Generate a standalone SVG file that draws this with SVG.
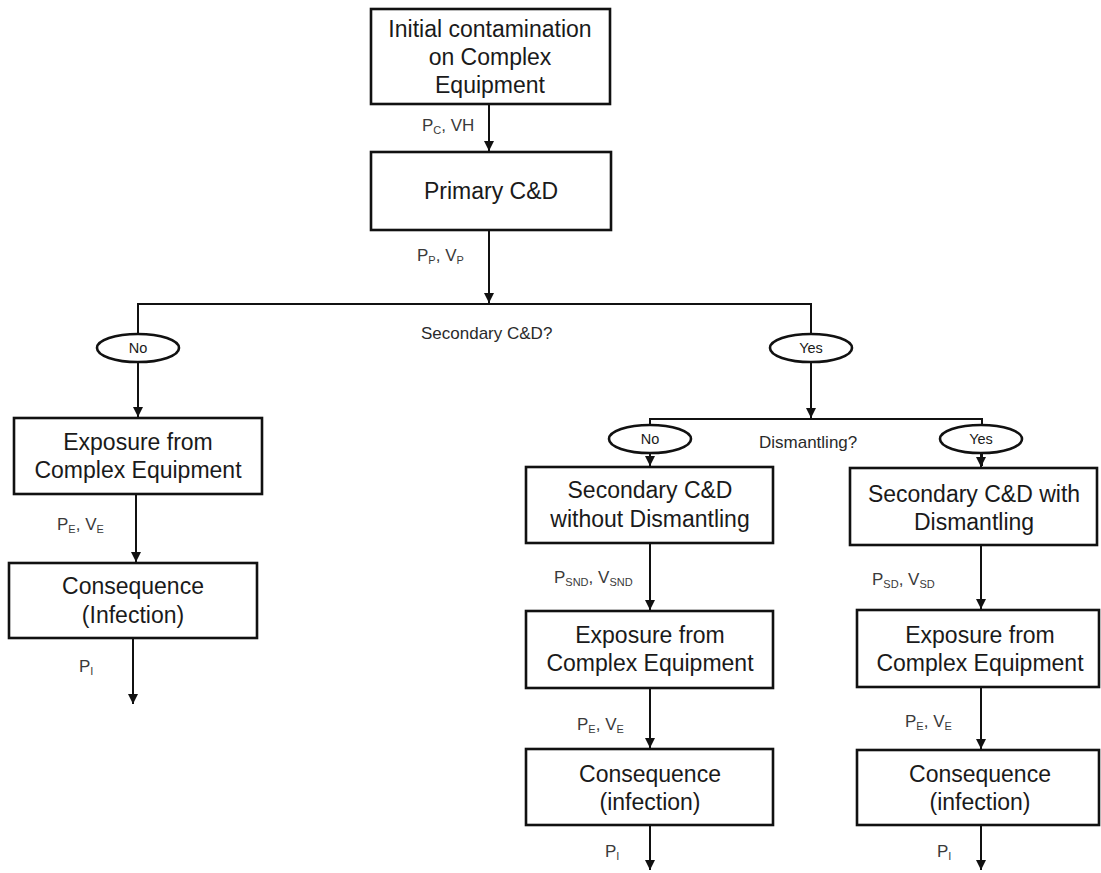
<svg xmlns="http://www.w3.org/2000/svg" width="1101" height="873" viewBox="0 0 1101 873">
  <defs>
    <style>
      .box { fill: #ffffff; stroke: #111111; stroke-width: 2.6; }
      .oval { fill: #ffffff; stroke: #111111; stroke-width: 2.6; }
      .t { font-family: "Liberation Sans", Arial, sans-serif; font-size: 23px; fill: #1a1a1a; text-anchor: middle; }
      .o { font-family: "Liberation Sans", Arial, sans-serif; font-size: 14.5px; fill: #1a1a1a; text-anchor: middle; }
      .q { font-family: "Liberation Sans", Arial, sans-serif; font-size: 17px; fill: #2a2a2a; }
      .lbl { font-family: "Liberation Sans", Arial, sans-serif; font-size: 17px; fill: #3a3a3a; }
      .sub { font-size: 11px; }
      .ln { fill: none; stroke: #111111; stroke-width: 2; }
    </style>
    <marker id="arrow" markerWidth="10" markerHeight="11" refX="10" refY="5" orient="auto" markerUnits="userSpaceOnUse">
      <path d="M0,0 L10,5 L0,10 Z" fill="#111111"/>
    </marker>
  </defs>

  <rect width="1101" height="873" fill="#ffffff"/>

  <!-- connectors -->
  <g id="connectors">
    <line class="ln" x1="489" y1="104" x2="489" y2="151" marker-end="url(#arrow)"/>
    <line class="ln" x1="489" y1="230" x2="489" y2="303" marker-end="url(#arrow)"/>
    <polyline class="ln" points="138,415 138,304 811,304 811,418"/>
    <line class="ln" x1="138" y1="360" x2="138" y2="417" marker-end="url(#arrow)"/>
    <line class="ln" x1="811" y1="360" x2="811" y2="418" marker-end="url(#arrow)"/>
    <polyline class="ln" points="650,466 650,419 982,419 982,466"/>
    <line class="ln" x1="650" y1="452" x2="650" y2="466" marker-end="url(#arrow)"/>
    <line class="ln" x1="981" y1="452" x2="981" y2="467" marker-end="url(#arrow)"/>

    <line class="ln" x1="136" y1="494" x2="136" y2="562" marker-end="url(#arrow)"/>
    <line class="ln" x1="133" y1="638" x2="133" y2="704" marker-end="url(#arrow)"/>

    <line class="ln" x1="650" y1="543" x2="650" y2="610" marker-end="url(#arrow)"/>
    <line class="ln" x1="650" y1="688" x2="650" y2="748" marker-end="url(#arrow)"/>
    <line class="ln" x1="650" y1="825" x2="650" y2="870" marker-end="url(#arrow)"/>

    <line class="ln" x1="981" y1="545" x2="981" y2="609" marker-end="url(#arrow)"/>
    <line class="ln" x1="981" y1="687" x2="981" y2="749" marker-end="url(#arrow)"/>
    <line class="ln" x1="981" y1="825" x2="981" y2="870" marker-end="url(#arrow)"/>
  </g>

  <!-- connector labels -->
  <g id="labels">
    <text class="lbl" x="422" y="131">P<tspan class="sub" dy="3">C</tspan><tspan dy="-3">, VH</tspan></text>
    <text class="lbl" x="417" y="261">P<tspan class="sub" dy="3">P</tspan><tspan dy="-3">, V</tspan><tspan class="sub" dy="3">P</tspan></text>
    <text class="q" x="421" y="339">Secondary C&amp;D?</text>
    <text class="q" x="759" y="448">Dismantling?</text>
    <text class="lbl" x="57" y="530">P<tspan class="sub" dy="3">E</tspan><tspan dy="-3">, V</tspan><tspan class="sub" dy="3">E</tspan></text>
    <text class="lbl" x="79" y="672">P<tspan class="sub" dy="3">I</tspan></text>
    <text class="lbl" x="554" y="583">P<tspan class="sub" dy="3">SND</tspan><tspan dy="-3">, V</tspan><tspan class="sub" dy="3">SND</tspan></text>
    <text class="lbl" x="577" y="730">P<tspan class="sub" dy="3">E</tspan><tspan dy="-3">, V</tspan><tspan class="sub" dy="3">E</tspan></text>
    <text class="lbl" x="605" y="857">P<tspan class="sub" dy="3">I</tspan></text>
    <text class="lbl" x="872" y="585">P<tspan class="sub" dy="3">SD</tspan><tspan dy="-3">, V</tspan><tspan class="sub" dy="3">SD</tspan></text>
    <text class="lbl" x="905" y="727">P<tspan class="sub" dy="3">E</tspan><tspan dy="-3">, V</tspan><tspan class="sub" dy="3">E</tspan></text>
    <text class="lbl" x="937" y="857">P<tspan class="sub" dy="3">I</tspan></text>
  </g>

  <!-- decision ovals -->
  <g id="sec-no">
    <ellipse class="oval" cx="138" cy="348" rx="41" ry="14"/>
    <text class="o" x="138" y="353">No</text>
  </g>
  <g id="sec-yes">
    <ellipse class="oval" cx="811" cy="348" rx="41" ry="14"/>
    <text class="o" x="811" y="353">Yes</text>
  </g>
  <g id="dis-no">
    <ellipse class="oval" cx="650" cy="439" rx="41" ry="14"/>
    <text class="o" x="650" y="444">No</text>
  </g>
  <g id="dis-yes">
    <ellipse class="oval" cx="981" cy="439" rx="41" ry="14"/>
    <text class="o" x="981" y="444">Yes</text>
  </g>

  <!-- process boxes -->
  <g id="initial">
    <rect class="box" x="371" y="9" width="239" height="95"/>
    <text class="t" x="490" y="37">Initial contamination</text>
    <text class="t" x="490" y="65">on Complex</text>
    <text class="t" x="490" y="93">Equipment</text>
  </g>
  <g id="primary">
    <rect class="box" x="371" y="152" width="240" height="78"/>
    <text class="t" x="491" y="199">Primary C&amp;D</text>
  </g>

  <g id="exposure-left">
    <rect class="box" x="14" y="418" width="248" height="76"/>
    <text class="t" x="138" y="450">Exposure from</text>
    <text class="t" x="138" y="478">Complex Equipment</text>
  </g>
  <g id="consequence-left">
    <rect class="box" x="9" y="563" width="248" height="75"/>
    <text class="t" x="133" y="594">Consequence</text>
    <text class="t" x="133" y="623">(Infection)</text>
  </g>

  <g id="secondary-nd">
    <rect class="box" x="526" y="467" width="247" height="76"/>
    <text class="t" x="650" y="498">Secondary C&amp;D</text>
    <text class="t" x="650" y="527">without Dismantling</text>
  </g>
  <g id="exposure-mid">
    <rect class="box" x="526" y="611" width="247" height="77"/>
    <text class="t" x="650" y="643">Exposure from</text>
    <text class="t" x="650" y="671">Complex Equipment</text>
  </g>
  <g id="consequence-mid">
    <rect class="box" x="526" y="749" width="247" height="76"/>
    <text class="t" x="650" y="782">Consequence</text>
    <text class="t" x="650" y="810">(infection)</text>
  </g>

  <g id="secondary-d">
    <rect class="box" x="850" y="468" width="247" height="77"/>
    <text class="t" x="974" y="502">Secondary C&amp;D with</text>
    <text class="t" x="974" y="530">Dismantling</text>
  </g>
  <g id="exposure-right">
    <rect class="box" x="857" y="610" width="242" height="77"/>
    <text class="t" x="980" y="643">Exposure from</text>
    <text class="t" x="980" y="671">Complex Equipment</text>
  </g>
  <g id="consequence-right">
    <rect class="box" x="857" y="750" width="242" height="75"/>
    <text class="t" x="980" y="782">Consequence</text>
    <text class="t" x="980" y="810">(infection)</text>
  </g>
</svg>
